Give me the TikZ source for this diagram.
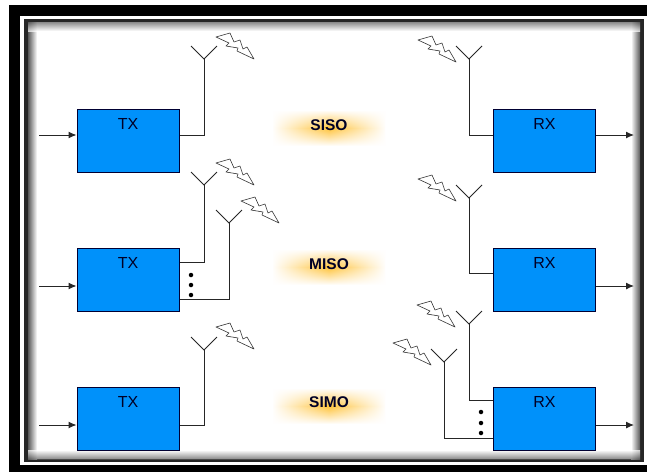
\documentclass[tikz,border=0pt]{standalone}
\usepackage{fontspec}
\setmainfont{Liberation Sans}
\usetikzlibrary{positioning,fadings,arrows.meta}
\tikzfading[name=glowsides, left color=transparent!0, right color=transparent!0, middle color=transparent!100]
\tikzset{
  wire/.style={draw=black!85, line width=1pt},
  signal/.style={wire, -{Latex[length=8pt,width=7pt]}},
  radio/.style={draw=blue!20!black, fill=txblue, line width=1pt, minimum width=102pt, minimum height=63pt, inner sep=0pt},
  radiotext/.style={font=\fontsize{16}{16}\selectfont, text=black!85!blue, inner sep=0pt},
  modetext/.style={font=\fontsize{15.5}{16}\selectfont\bfseries, text=black!85!blue, inner sep=0pt},
  dotmark/.style={circle, fill=black, inner sep=0pt, minimum size=4.5pt},
  pics/aerial/.style={code={
    \draw[wire] (-13,-13) -- (0,0) -- (13,-13);
  }},
  pics/bolt/.style={code={
    \draw[draw=black!80, fill=white, line width=0.6pt, line join=round]
      (0,0) -- (14,-4) -- (18,5) -- (24,3) -- (27,12) -- (31,10) -- (38,22)
      -- (21,14) -- (22,11) -- (10,9) -- (13,6) -- cycle;
  }},
  pics/glow/.style={code={
    \shade[top color=white, bottom color=glowgold] (-56,-18) rectangle (56,0);
    \shade[top color=glowgold, bottom color=white] (-56,0) rectangle (56,18);
    \fill[white, path fading=glowsides] (-57,-19) rectangle (57,19);
  }}
}
\definecolor{txblue}{RGB}{0,145,250}
\definecolor{glowgold}{RGB}{255,196,60}
\begin{document}
\begin{tikzpicture}[x=1pt, y=-1pt]
  \useasboundingbox (0,0) rectangle (647,472);

  % Frame
  \fill[black] (9,5) rectangle (647,472);
  \fill[white] (20,16) rectangle (647,465);
  \fill[black!85] (24,19) rectangle (644,462);
  \fill[white] (28,22) rectangle (640,459);
  \shade[left color=black!65, right color=white] (28,22) rectangle (37,459);
  \shade[left color=white, right color=black!65] (631,22) rectangle (640,459);
  \fill[white] (37,31) rectangle (631,450);
  \shade[top color=black!65, bottom color=white, fill opacity=0.7] (28,22) rectangle (640,31);
  \shade[top color=white, bottom color=black!65, fill opacity=0.7] (28,450) rectangle (640,459);

  % Labels in the middle
  \pic at (329,128) {glow};
  \pic at (329,267) {glow};
  \pic at (329,406) {glow};
  \node[modetext] (siso) at (329,125) {SISO};
  \node[modetext] (miso) at (329,264) {MISO};
  \node[modetext] (simo) at (329,402) {SIMO};

  % Transmitters
  \foreach \name/\ypos in {tx1/140.5, tx2/279.5, tx3/418.5} {
    \node[radio] (\name) at (128,\ypos) {};
    \node[radiotext, below=10pt of \name.north] (\name text) {TX};
  }
  % Receivers
  \foreach \name/\ypos in {rx1/140.5, rx2/279.5, rx3/418.5} {
    \node[radio] (\name) at (544.5,\ypos) {};
    \node[radiotext, below=10pt of \name.north] (\name text) {RX};
  }

  % Antennas
  \foreach \name/\xpos/\ypos in {ta/204/59, tb/204/185, tc/229/223, td/204/350,
                                 ra/469/59, rb/469/198, rc/469/324, rd/444/362} {
    \coordinate (\name) at (\xpos,\ypos);
    \pic at (\name) {aerial};
  }
  \foreach \xpos/\ypos in {216/37, 216/163, 241/201, 216/327,
                           418/40, 418/179, 417/305, 393/343} {
    \pic at (\xpos,\ypos) {bolt};
  }

  % Free ends and ports
  \foreach \name/\xpos/\ypos in {ina/39/135, inb/39/286, inc/39/425,
                                 outa/634/135, outb/634/286, outc/634/425} {
    \coordinate (\name) at (\xpos,\ypos);
  }

  % Inputs and outputs
  \draw[signal] (ina) -- (ina -| tx1.west);
  \draw[signal] (inb) -- (inb -| tx2.west);
  \draw[signal] (inc) -- (inc -| tx3.west);
  \draw[signal] (outa -| rx1.east) -- (outa);
  \draw[signal] (outb -| rx2.east) -- (outb);
  \draw[signal] (outc -| rx3.east) -- (outc);

  % Antenna feeds
  \draw[wire] (ta) |- (tx1.east |- ina);
  \draw[wire] (tb) -- (204,262) -- (tx2.east |- 0,262);
  \draw[wire] (tc) -- (229,299) -- (tx2.east |- 0,299);
  \draw[wire] (td) |- (tx3.east |- inc);
  \draw[wire] (ra) |- (rx1.west |- outa);
  \draw[wire] (rb) -- (469,273) -- (rx2.west |- 0,273);
  \draw[wire] (rc) -- (469,400) -- (rx3.west |- 0,400);
  \draw[wire] (rd) -- (444,438) -- (rx3.west |- 0,438);

  % Dots
  \foreach \xpos/\ypos in {191/275, 191/285, 191/295, 481/412, 481/423, 481/433} {
    \node[dotmark] at (\xpos,\ypos) {};
  }
\end{tikzpicture}
\end{document}
